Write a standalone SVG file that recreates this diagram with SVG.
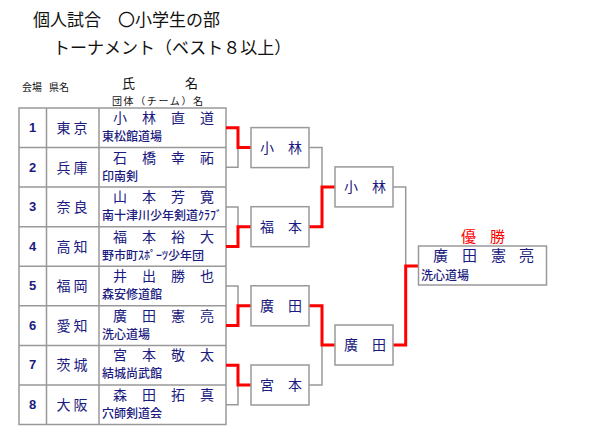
<svg xmlns="http://www.w3.org/2000/svg" width="600" height="440" viewBox="0 0 600 440">
<style>
text{font-family:"Noto Sans CJK JP","Liberation Sans",sans-serif;}
.title{font-size:17px;fill:#111;}
.hdr{font-size:10px;fill:#111;}
.hdr2{font-size:13px;fill:#111;}
.num{font-family:"Liberation Sans",Arial,sans-serif;font-size:13px;font-weight:bold;fill:#1a1a80;text-anchor:middle;}
.pref{font-size:14px;fill:#1a1a80;text-anchor:middle;}
.name{font-size:14px;fill:#1a1a80;}
.team{font-size:12px;font-weight:500;fill:#1a1a80;}
.cell{fill:#fff;stroke:#999;stroke-width:1.5;}
.box{fill:#fff;stroke:#999;stroke-width:1.5;}
.win{font-size:15px;fill:#ff0000;}
.g{fill:none;stroke:#999;stroke-width:1.5;}
.r{fill:none;stroke:#ff0000;stroke-width:3;}
</style>
<g id="title">
<text class="title" x="33" y="26">個人試合　〇小学生の部</text>
<text class="title" x="53" y="54">トーナメント（ベスト８以上）</text>
</g>
<g id="header">
<text class="hdr" x="22" y="91">会場</text>
<text class="hdr" x="49" y="91">県名</text>
<text class="hdr2" x="122" y="88">氏</text>
<text class="hdr2" x="185" y="88">名</text>
<text class="hdr" x="112" y="104.5" textLength="91" lengthAdjust="spacing">団体（チーム）名</text>
</g>
<g id="table">
<rect class="cell" x="19" y="108" width="207" height="316.5"/>
<line class="g" x1="46.5" y1="108" x2="46.5" y2="424.5"/>
<line class="g" x1="99" y1="108" x2="99" y2="424.5"/>
<line class="g" x1="19" y1="147.6" x2="226" y2="147.6"/>
<line class="g" x1="19" y1="187.1" x2="226" y2="187.1"/>
<line class="g" x1="19" y1="226.7" x2="226" y2="226.7"/>
<line class="g" x1="19" y1="266.2" x2="226" y2="266.2"/>
<line class="g" x1="19" y1="305.8" x2="226" y2="305.8"/>
<line class="g" x1="19" y1="345.4" x2="226" y2="345.4"/>
<line class="g" x1="19" y1="384.9" x2="226" y2="384.9"/>
</g>
<g id="row1">
<text class="num" x="32.5" y="132">1</text>
<text class="pref" x="72" y="133">東 京</text>
<text class="name" x="113 142 171 200" y="123">小林直道</text>
<text class="team" x="102" y="141">東松館道場</text>
</g>
<g id="row2">
<text class="num" x="32.5" y="171.6">2</text>
<text class="pref" x="72" y="172.6">兵 庫</text>
<text class="name" x="113 142 171 200" y="162.6">石橋幸祏</text>
<text class="team" x="102" y="180.6">印南剣</text>
</g>
<g id="row3">
<text class="num" x="32.5" y="211.1">3</text>
<text class="pref" x="72" y="212.1">奈 良</text>
<text class="name" x="113 142 171 200" y="202.1">山本芳寛</text>
<text class="team" x="102" y="220.1">南十津川少年剣道ｸﾗﾌﾞ</text>
</g>
<g id="row4">
<text class="num" x="32.5" y="250.7">4</text>
<text class="pref" x="72" y="251.7">高 知</text>
<text class="name" x="113 142 171 200" y="241.7">福本裕大</text>
<text class="team" x="102" y="259.7">野市町ｽﾎﾟｰﾂ少年団</text>
</g>
<g id="row5">
<text class="num" x="32.5" y="290.2">5</text>
<text class="pref" x="72" y="291.2">福 岡</text>
<text class="name" x="113 142 171 200" y="281.2">井出勝也</text>
<text class="team" x="102" y="299.2">森安修道館</text>
</g>
<g id="row6">
<text class="num" x="32.5" y="329.8">6</text>
<text class="pref" x="72" y="330.8">愛 知</text>
<text class="name" x="113 142 171 200" y="320.8">廣田憲亮</text>
<text class="team" x="102" y="338.8">洗心道場</text>
</g>
<g id="row7">
<text class="num" x="32.5" y="369.4">7</text>
<text class="pref" x="72" y="370.4">茨 城</text>
<text class="name" x="113 142 171 200" y="360.4">宮本敬太</text>
<text class="team" x="102" y="378.4">結城尚武館</text>
</g>
<g id="row8">
<text class="num" x="32.5" y="408.9">8</text>
<text class="pref" x="72" y="409.9">大 阪</text>
<text class="name" x="113 142 171 200" y="399.9">森田拓真</text>
<text class="team" x="102" y="417.9">穴師剣道会</text>
</g>
<g id="connectors">
<path class="g" d="M226 167.3H238V147.6"/>
<path class="g" d="M226 206.9H238V226.7"/>
<path class="g" d="M226 286H238V305.8"/>
<path class="g" d="M226 404.7H238V385"/>
<path class="g" d="M309 147.6H322V186.9"/>
<path class="g" d="M309 385H322V345"/>
<path class="g" d="M393 186.9H405.7V266"/>
<path class="r" d="M226 127.8H238V147.6H251"/>
<path class="r" d="M226 246.5H238V226.7H251"/>
<path class="r" d="M226 325.6H238V305.8H251"/>
<path class="r" d="M226 365.2H238V385H251"/>
<path class="r" d="M309 226.7H322V186.9H335"/>
<path class="r" d="M309 305.8H322V345H335"/>
<path class="r" d="M393 345H405.7V266H418"/>
</g>
<g id="qf1">
<rect class="box" x="251" y="127.6" width="58" height="40"/>
<text class="name" x="260 288" y="152.5">小林</text>
</g>
<g id="qf2">
<rect class="box" x="251" y="206.7" width="58" height="40"/>
<text class="name" x="260 288" y="231.6">福本</text>
</g>
<g id="qf3">
<rect class="box" x="251" y="285.8" width="58" height="40"/>
<text class="name" x="260 288" y="310.7">廣田</text>
</g>
<g id="qf4">
<rect class="box" x="251" y="365" width="58" height="40"/>
<text class="name" x="260 288" y="389.9">宮本</text>
</g>
<g id="sf1">
<rect class="box" x="335" y="166.9" width="58" height="40"/>
<text class="name" x="344 372" y="191.8">小林</text>
</g>
<g id="sf2">
<rect class="box" x="335" y="325" width="58" height="40"/>
<text class="name" x="344 372" y="349.9">廣田</text>
</g>
<g id="winner">
<text class="win" x="461 490" y="242">優勝</text>
<rect class="box" x="418.5" y="246" width="128" height="39"/>
<text class="name" x="433 462 491 519" y="261" style="font-size:15px">廣田憲亮</text>
<text class="team" x="421" y="280">洗心道場</text>
</g>
</svg>
